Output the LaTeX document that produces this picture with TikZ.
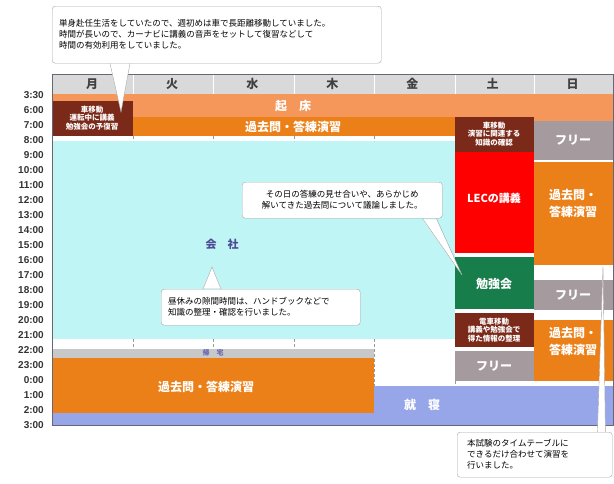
\documentclass[tikz,border=0pt]{standalone}
\usepackage{fontspec}
\setmainfont{Noto Sans CJK JP}
\newfontfamily\timefont{Liberation Sans}
\usetikzlibrary{calc, positioning}
\definecolor{wake}{HTML}{F5975A}
\definecolor{study}{HTML}{EC8018}
\definecolor{move}{HTML}{7B2A1A}
\definecolor{office}{HTML}{C0F5F5}
\definecolor{free}{HTML}{A59B9E}
\definecolor{lec}{HTML}{FF0000}
\definecolor{meet}{HTML}{177D4A}
\definecolor{sleep}{HTML}{96A6E8}
\definecolor{home}{HTML}{C8C8C8}
\definecolor{frame}{HTML}{666677}
\tikzset{
  block/.style={inner sep=0pt, text=white, font=\bfseries\fontsize{12}{14}\selectfont, align=center},
  small/.style={block, font=\bfseries\fontsize{7.5}{8.5}\selectfont},
  hour/.style={anchor=east, inner sep=0pt, font=\timefont\bfseries\fontsize{10}{10}\selectfont, text=black!80},
  day/.style={inner sep=0pt, font=\bfseries\fontsize{12}{12}\selectfont, text=black!75},
  note/.style={draw=black!35, fill=white, rounded corners=3pt, inner sep=0pt, font=\fontsize{8.5}{11}\selectfont, align=left},
  tick/.style={densely dashed, black!40},
}
\begin{document}
\begin{tikzpicture}[x=1pt, y=-1pt]
\useasboundingbox (0,0) rectangle (614,483);
% header
\fill[black!15] (52,74) rectangle (613,94);
\foreach \c in {133,213,294,374,455,534} \draw[white] (\c,74) -- (\c,94);
\foreach \d [count=\i] in {月,火,水,木,金,土,日}
  \node[day] (d\i) at ({52+80.1*(\i-0.5)},84) {\d};
% hours
\node[hour] (h0) at (44,95) {3:30};
\foreach \t [count=\i] in {6:00,7:00,8:00,9:00,10:00,11:00,12:00,13:00,14:00,15:00,16:00,17:00,18:00,19:00,20:00,21:00,22:00,23:00,0:00,1:00,2:00,3:00}
  \node[hour] (h\i) at (44,{95+15*\i}) {\t};
% blocks
\fill[wake] (52,94) rectangle (613,117);
\fill[wake] (534,117) rectangle (613,121);
\fill[study] (133,117) rectangle (455,136);
\fill[office] (52,141) rectangle (455,339);
\foreach \c in {133,213,294,374} \draw[tick] (\c,136) -- (\c,141);
\foreach \c in {133,213,294} \draw[tick] (\c,339) -- (\c,349);
\draw[tick] (374,339) -- (374,386);
\draw[tick] (455,381) -- (455,386);
\fill[home] (52,349) rectangle (374,358);
\fill[study] (52,358) rectangle (374,413);
\fill[sleep] (52,413) rectangle (374,425);
\fill[sleep] (374,386) rectangle (613,425);
\fill[move] (52,101) rectangle (133,136);
\fill[move] (455,117) rectangle (534,152);
\fill[lec] (455,152) rectangle (534,253);
\fill[meet] (455,257) rectangle (534,309);
\fill[move] (455,313) rectangle (534,347);
\fill[free] (455,351) rectangle (534,381);
\fill[free] (534,121) rectangle (613,160);
\fill[study] (534,162) rectangle (613,265);
\fill[free] (534,280) rectangle (613,310);
\fill[study] (534,320) rectangle (613,381);
\draw[frame] (613,74) -- (52,74) -- (52,425) -- (613,425) -- (613,74);
% labels
\node[block] (wakeup) at (293,106) {起\quad 床};
\node[block] (past1) at (293,127) {過去問・答練演習};
\node[small] (carmon) at (92,118) {車移動\\運転中に講義\\勉強会の予復習};
\node[block, text=black!60!blue!70, font=\bfseries\fontsize{11}{11}\selectfont] (work) at (222,244) {会\quad 社};
\node[small, text=black!50!blue!60, font=\bfseries\fontsize{7}{7}\selectfont] (back) at (213,353) {帰\quad 宅};
\node[block] (past2) at (206,387) {過去問・答練演習};
\node[block] (sleeping) at (422,405) {就\quad 寝};
\node[small] (carsat) at (494,134) {車移動\\演習に関連する\\知識の確認};
\node[block, font=\bfseries\fontsize{11}{12}\selectfont] (lecture) at (494,198) {LECの講義};
\node[block] (group) at (494,284) {勉強会};
\node[small] (train) at (494,330) {電車移動\\講義や勉強会で\\得た情報の整理};
\node[block] (free1) at (494,366) {フリー};
\node[block] (free2) at (573,140) {フリー};
\node[block, font=\bfseries\fontsize{12}{17}\selectfont] (past3) at (573,203) {過去問・\\答練演習};
\node[block] (free3) at (573,295) {フリー};
\node[block, font=\bfseries\fontsize{12}{17}\selectfont] (past4) at (573,341) {過去問・\\答練演習};
% notes
\node[note, minimum width=329pt, minimum height=57pt, text width=315pt, anchor=north west] (noteA) at (52,6) {単身赴任生活をしていたので、週初めは車で長距離移動していました。\\時間が長いので、カーナビに講義の音声をセットして復習などして\\時間の有効利用をしていました。};
\coordinate (tipA) at (121,112);
\fill[white] ([xshift=58pt,yshift=-1pt]noteA.south west) -- (tipA) -- ([xshift=78pt,yshift=-1pt]noteA.south west) -- cycle;
\draw[black!35] ([xshift=58pt]noteA.south west) -- (tipA) -- ([xshift=78pt]noteA.south west);
\node[note, minimum width=200pt, minimum height=36pt, align=center, anchor=north west] (noteB) at (242,182) {その日の答練の見せ合いや、あらかじめ\\解いてきた過去問について議論しました。};
\coordinate (tipB) at (462,275);
\fill[white] ([xshift=-20pt,yshift=-1pt]noteB.south east) -- (tipB) -- ([xshift=-6pt,yshift=-1pt]noteB.south east) -- cycle;
\draw[black!35] ([xshift=-20pt]noteB.south east) -- (tipB) -- ([xshift=-6pt]noteB.south east);
\node[note, minimum width=199pt, minimum height=36pt, text width=185pt, anchor=north west] (noteC) at (161,289) {昼休みの隙間時間は、ハンドブックなどで\\知識の整理・確認を行いました。};
\coordinate (tipC) at (212,267);
\fill[white] ([xshift=42pt,yshift=1pt]noteC.north west) -- (tipC) -- ([xshift=60pt,yshift=1pt]noteC.north west) -- cycle;
\draw[black!35] ([xshift=42pt]noteC.north west) -- (tipC) -- ([xshift=60pt]noteC.north west);
\node[note, minimum width=155pt, minimum height=45pt, text width=135pt, anchor=north west] (noteD) at (457,432) {本試験のタイムテーブルに\\できるだけ合わせて演習を\\行いました。};
\coordinate (tipD) at (603,266);
\fill[white] ([xshift=-15pt,yshift=1pt]noteD.north east) -- (tipD) -- ([xshift=-7pt,yshift=1pt]noteD.north east) -- cycle;
\draw[black!35] ([xshift=-15pt]noteD.north east) -- (tipD) -- ([xshift=-7pt]noteD.north east);
\end{tikzpicture}
\end{document}
